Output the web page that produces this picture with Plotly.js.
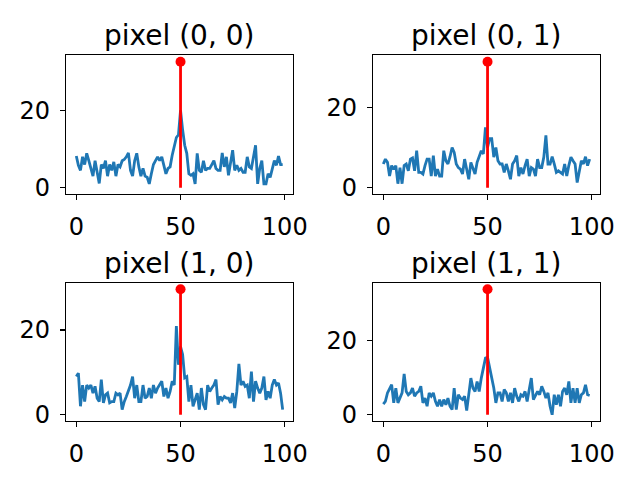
<!DOCTYPE html>
<html>
<head>
<meta charset="utf-8">
<script src="https://cdn.plot.ly/plotly-3.0.1.min.js"></script>
<style>
html, body { margin: 0; padding: 0; background: #fff; }
#chart { width: 640px; height: 480px; }
</style>
</head>
<body>
<div id="chart"></div>
<script>
// time index of each sample
var t = [];
for (var i = 0; i < 100; i++) t.push(i);

var titles = ['pixel (0, 0)', 'pixel (0, 1)', 'pixel (1, 0)', 'pixel (1, 1)'];

var p00 = [8.2, 5.8, 4.5, 8, 6, 8.9, 7, 5, 3, 7, 4.5, 1.1, 6, 5, 7, 3, 6, 4.5, 6.7, 3,
    6, 5.4, 7, 7.3, 8, 9, 4.5, 3, 7, 8.9, 5.4, 3, 5, 3, 2.7, 1, 3.6, 6, 7, 8,
    7, 8, 5.8, 3.6, 5, 5.4, 8.4, 10.6, 13, 13.7,
    20, 15, 11, 8.9, 3.6, 3.2, 3.6, 1, 8.9, 4.5, 4, 7, 4.5, 5, 5, 6, 7, 5, 4.5, 4.5,
    9, 5.4, 8, 3.2, 7, 9.7, 4.5, 5.8, 4.5, 5, 4, 4, 8, 5.4, 5, 8, 11, 1, 5, 7,
    1, 1, 3.6, 2.7, 5, 7, 5.8, 8.2, 6, 6];

var p01 = [5.9, 7.1, 6.3, 2.9, 5.5, 4.6, 5.5, 1, 5, 1, 5.5, 5.9, 4.2, 7.1, 7.4, 4.2, 9.2, 3.8, 3.8, 3.4,
    5.5, 7.1, 7.1, 2.9, 8, 2.9, 4.6, 2.9, 2.9, 9.2, 6.7, 5.9, 7.7, 10, 8.8, 5.9, 5, 4.6, 3.4, 7.1,
    4.6, 2.1, 6.3, 4.6, 3.4, 6.3, 7.7, 9.2, 8.4, 15,
    10, 12.2, 12.2, 7.6, 10, 6.7, 5.9, 5.9, 3.8, 5.9, 4.2, 2.1, 5.9, 6.7, 8, 2.9, 5, 3.4, 5.5, 7.1,
    2.9, 5, 4.6, 2.9, 7.1, 5, 5, 7.6, 13, 5.9, 5.9, 7.7, 5.9, 3.8, 4.2, 3.8, 3.4, 5.9, 2.9, 5.5,
    7.6, 6.7, 5.9, 1.3, 3.8, 6.7, 5.9, 7.7, 5.5, 7.1];

var p10 = [9, 9.8, 2, 7, 3.1, 7, 6.3, 7, 5.1, 6.7, 3.9, 3.1, 8.3, 2.8, 4.7, 5.1, 2.8, 3.1, 3.1, 5.1,
    4.7, 5.1, 1.2, 3.1, 4.3, 5.5, 7, 9, 3.9, 7, 3.1, 3.1, 7, 3.9, 4.3, 6.3, 3.9, 7, 5.1, 6.3,
    7, 7.9, 4.3, 6.3, 3.9, 5.5, 7.9, 7, 20.9, 11.8,
    16.1, 14.2, 8.7, 9, 3.1, 7, 2, 3.9, 5.1, 1.2, 6.3, 2.4, 1.2, 7, 5.5, 6.3, 7, 8.3, 2.4, 4.3,
    3.5, 4.3, 3.9, 3.9, 2.8, 5.1, 1.6, 5.5, 12, 7, 7.9, 6.7, 7, 3.9, 10.2, 3.1, 7.9, 6.3, 5.1, 6.3,
    9, 3.5, 5.5, 3.9, 7, 8.3, 7, 7.5, 5.1, 1.2];

var p11 = [2.9, 3.6, 5.9, 7.2, 8.1, 3.2, 7.2, 3.2, 4.5, 5.9, 11, 6.3, 5.4, 5.9, 7.2, 5, 5.9, 6.3, 7.7, 3.2,
    4.5, 2.3, 5.9, 5, 5.9, 3.6, 2.3, 4.1, 2.3, 4.1, 2.7, 4.5, 2.3, 1.4, 7.2, 1.4, 5.4, 4.5, 4.1, 5,
    1.1, 5.4, 9.9, 7.2, 6.3, 9, 6.3, 9.9, 12.6, 15.3,
    15.5, 12.6, 9.9, 7.2, 3.2, 5.9, 5.9, 3.6, 6.8, 5.9, 3.6, 5.9, 3.2, 7.2, 5, 3.6, 5.4, 5, 6.3, 3.6,
    6.8, 9.9, 4.1, 5.4, 6.3, 5.4, 7.7, 6.3, 4.5, 5.9, 2.3, 0, 5.4, 2.7, 5.4, 2.3, 6.3, 7.2, 5.4, 9,
    3.2, 7.2, 3.2, 7.2, 3.2, 5.4, 5.9, 8.1, 5.4, 5.2];

var series = [p00, p01, p10, p11];

// red stem: position and height per panel
var stemX = 50;
var stemY = [32.6, 31.3, 29.6, 33.9];

var xDomains = [[0.1031, 0.4578], [0.5828, 0.9375], [0.1031, 0.4578], [0.5828, 0.9375]];
var yDomains = [[0.5958, 0.8844], [0.5958, 0.8844], [0.1229, 0.4104], [0.1229, 0.4104]];

var FONT = 'DejaVu Sans, sans-serif';
var traces = [];
var layout = {
    width: 640,
    height: 480,
    margin: {l: 0, r: 0, t: 0, b: 0},
    paper_bgcolor: '#fff',
    plot_bgcolor: '#fff',
    showlegend: false,
    font: {family: FONT, color: '#000'},
    annotations: []
};

function axisStyle(standoff) {
    return {
        showline: true,
        mirror: true,
        linecolor: '#000',
        linewidth: 1.1,
        ticks: 'outside',
        ticklen: 5,
        tickwidth: 1.1,
        tickcolor: '#000',
        showgrid: false,
        zeroline: false,
        tickfont: {family: FONT, size: 24, color: '#000'},
        ticklabelstandoff: standoff
    };
}

for (var k = 0; k < 4; k++) {
    var n = k === 0 ? '' : String(k + 1);
    var xa = 'x' + n, ya = 'y' + n;

    traces.push({
        x: t, y: series[k], xaxis: xa, yaxis: ya,
        type: 'scatter', mode: 'lines',
        line: {color: '#1f77b4', width: 2.8},
        hoverinfo: 'skip'
    });
    traces.push({
        x: [stemX, stemX], y: [0, stemY[k]], xaxis: xa, yaxis: ya,
        type: 'scatter', mode: 'lines',
        line: {color: '#ff0000', width: 2.8},
        hoverinfo: 'skip'
    });
    traces.push({
        x: [stemX], y: [stemY[k]], xaxis: xa, yaxis: ya,
        type: 'scatter', mode: 'markers',
        marker: {color: '#ff0000', size: 10},
        hoverinfo: 'skip'
    });

    var xo = axisStyle(6);
    xo.domain = xDomains[k];
    xo.anchor = ya;
    xo.range = [-4.95, 103.95];
    xo.tickvals = [0, 50, 100];
    layout['xaxis' + n] = xo;

    var yo = axisStyle(5);
    yo.domain = yDomains[k];
    yo.anchor = xa;
    yo.range = [-0.05 * stemY[k], 1.05 * stemY[k]];
    yo.tickvals = [0, 20];
    layout['yaxis' + n] = yo;

    layout.annotations.push({
        text: titles[k],
        xref: 'paper', yref: 'paper',
        x: (xDomains[k][0] + xDomains[k][1]) / 2,
        y: yDomains[k][1],
        xanchor: 'center', yanchor: 'bottom',
        yshift: 1,
        showarrow: false,
        font: {family: FONT, size: 28, color: '#000'}
    });
}

Plotly.newPlot('chart', traces, layout, {displayModeBar: false, staticPlot: true});
</script>
</body>
</html>
